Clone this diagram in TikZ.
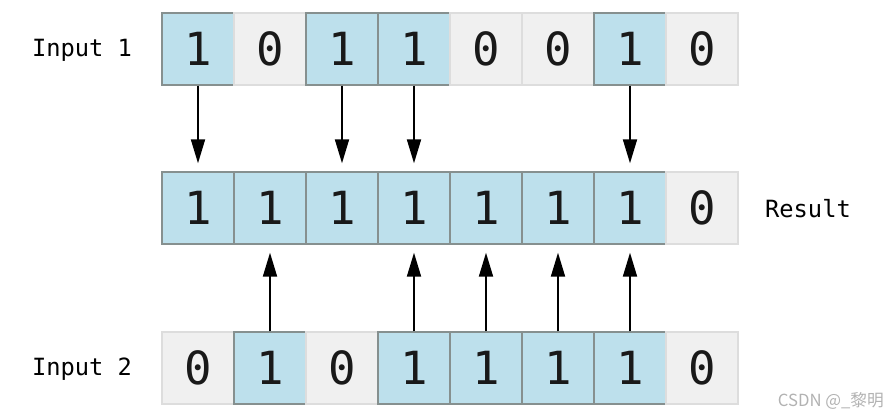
\documentclass[tikz,border=0pt]{standalone}
\usepackage{fontspec}
\setmonofont{DejaVu Sans Mono}
\newfontfamily\cjkfont{Noto Sans CJK SC}
\usetikzlibrary{arrows.meta}

\definecolor{cellblue}{HTML}{BDE0EC}
\definecolor{cellline}{HTML}{86908F}
\definecolor{cellgray}{HTML}{F0F0F0}
\definecolor{grayline}{HTML}{DDDDDD}

\begin{document}
\begin{tikzpicture}[
  x=0.02cm, y=-0.02cm,
  bit/.style={minimum size=1.44cm, inner sep=0pt, line width=0.8pt,
    text=black!90, font=\ttfamily\fontsize{26}{26}\selectfont},
  bit1/.style={bit, fill=cellblue, draw=cellline},
  bit0/.style={bit, fill=cellgray, draw=grayline},
  rowname/.style={font=\ttfamily\fontsize{13.5}{13.5}\selectfont},
  flow/.style={-{Triangle[length=4.8mm,width=2.8mm]}, line width=1.1pt, shorten >=0.16cm}
]
  \useasboundingbox (0,0) rectangle (894,416);

  % the three rows of bits
  \foreach \b [count=\i] in {1,0,1,1,0,0,1,0}
    \node[bit\b] (a\i) at (126+72*\i,49) {\b};
  \foreach \b [count=\i] in {1,1,1,1,1,1,1,0}
    \node[bit\b] (r\i) at (126+72*\i,208) {\b};
  \foreach \b [count=\i] in {0,1,0,1,1,1,1,0}
    \node[bit\b] (b\i) at (126+72*\i,368) {\b};

  \node[rowname] (in1) at (82,50) {Input 1};
  \node[rowname] (res) at (808,209) {Result};
  \node[rowname] (in2) at (82,369) {Input 2};

  % set bits go to the result
  \foreach \i in {1,3,4,7}
    \draw[flow] (a\i.south) -- (r\i.north);
  \foreach \i in {2,4,5,6,7}
    \draw[flow] (b\i.north) -- (r\i.south);

  \node[anchor=east, text=black!30, font=\cjkfont\fontsize{9.5}{9.5}\selectfont] (mark) at (890,401) {CSDN @\_黎明};
\end{tikzpicture}
\end{document}
